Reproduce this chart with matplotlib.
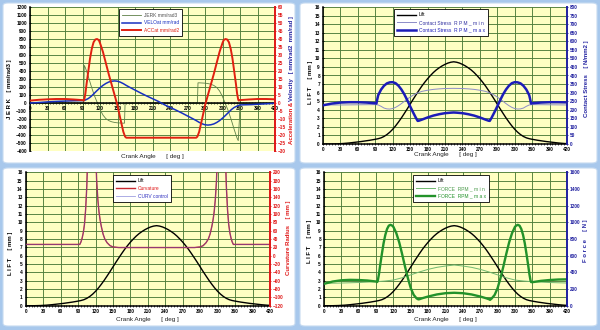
import matplotlib
matplotlib.use('Agg')
import matplotlib.pyplot as plt
from matplotlib.patches import FancyBboxPatch
from matplotlib.ticker import MultipleLocator

plt.rcParams['font.family'] = ['Liberation Sans', 'DejaVu Sans']

# ---------------- data ----------------
x_ticks = list(range(0, 421, 30))

lift_deg = list(range(0, 421, 5))
lift_mm = [0.00, 0.00, 0.00, 0.00, 0.01, 0.02, 0.04, 0.06, 0.09, 0.12, 0.16, 0.20, 0.24, 0.28, 0.33, 0.38,
           0.43, 0.49, 0.55, 0.62, 0.72, 0.88, 1.10, 1.38, 1.72, 2.12, 2.57, 3.05, 3.57, 4.10, 4.65, 5.20,
           5.73, 6.25, 6.75, 7.20, 7.62, 8.00, 8.35, 8.65, 8.90, 9.12, 9.30, 9.45, 9.55, 9.60, 9.55, 9.45,
           9.30, 9.12, 8.90, 8.65, 8.35, 8.00, 7.62, 7.20, 6.75, 6.25, 5.73, 5.20, 4.65, 4.10, 3.57, 3.05,
           2.57, 2.12, 1.72, 1.38, 1.10, 0.88, 0.72, 0.62, 0.55, 0.49, 0.43, 0.38, 0.33, 0.28, 0.24, 0.20,
           0.16, 0.12, 0.09, 0.06, 0.04]

jerk_deg = [0, 90, 92, 93, 95, 100, 105, 110, 115, 120, 125, 130, 135, 140, 145, 150, 155, 160, 162, 163,
            287, 288, 290, 295, 300, 305, 310, 315, 320, 325, 330, 335, 340, 345, 350, 355, 357, 359, 360, 420]
jerk_val = [0, 0, 0, 470, 440, 330, 210, 100, 10, -80, -150, -195, -220, -235, -243, -248, -250, -252, -252, 0,
            0, 252, 252, 250, 248, 243, 235, 220, 195, 150, 80, -10, -100, -210, -330, -440, -470, -200, 0, 0]

velo_deg = [0, 15, 30, 45, 60, 75, 90, 93, 95, 100, 105, 110, 115, 120, 125, 130, 135, 140, 145, 150, 155,
            160, 165, 170, 180, 190, 200, 210, 220, 225, 230, 240, 250, 260, 270, 280, 285, 290, 295, 300,
            305, 310, 315, 320, 325, 330, 335, 340, 345, 350, 355, 357, 360, 380, 400, 420]
velo_val = [0.0, 0.3, 0.7, 1.0, 1.2, 1.4, 1.5, 1.6, 1.9, 2.8, 4.2, 6.0, 7.8, 9.5, 11.0, 12.2, 13.1, 13.6, 13.8,
            13.6, 13.0, 12.1, 11.0, 10.0, 8.1, 6.2, 4.4, 2.7, 1.0, 0.0, -1.0, -2.7, -4.4, -6.2, -8.1, -10.0,
            -11.0, -12.1, -13.0, -13.6, -13.8, -13.6, -13.1, -12.2, -11.0, -9.5, -7.8, -6.0, -4.2, -2.8, -1.9,
            -1.6, -1.2, -1.0, -0.6, -0.2]

acc_deg = [0, 15, 30, 45, 60, 75, 90, 92, 93, 95, 97, 100, 103, 106, 109, 112, 115, 118, 120, 125, 130, 135,
           140, 145, 150, 155, 160, 163, 165, 285, 287, 290, 295, 300, 305, 310, 315, 320, 325, 330, 332, 335,
           338, 341, 344, 347, 350, 353, 355, 357, 358, 360, 375, 390, 405, 420]
acc_val = [1.5, 2.0, 2.3, 2.5, 2.5, 2.2, 1.8, 1.5, 2.0, 6.0, 12.0, 20.0, 28.0, 34.0, 38.0, 39.7, 40.0, 39.3,
           37.5, 32.0, 25.0, 18.0, 11.5, 5.0, -1.5, -10.0, -18.0, -21.0, -21.7, -21.7, -21.0, -18.0, -10.0,
           -1.5, 5.0, 11.5, 18.0, 25.0, 32.0, 37.5, 39.3, 40.0, 39.7, 38.0, 34.0, 28.0, 20.0, 12.0, 6.0, 2.0,
           1.5, 1.8, 2.2, 2.5, 2.5, 2.3]

cs_min_deg = [0, 30, 60, 90, 95, 100, 105, 110, 115, 120, 125, 130, 135, 140, 145, 150, 155, 160, 165, 170,
              180, 190, 200, 210, 225, 240, 250, 260, 270, 280, 285, 290, 295, 300, 305, 310, 315, 320, 325,
              330, 335, 340, 345, 350, 355, 360, 390, 420]
cs_min_val = [228, 228, 229, 230, 228, 220, 210, 205, 204, 207, 214, 224, 236, 249, 262, 274, 285, 294, 301,
              307, 314, 319, 322, 324, 325, 324, 322, 319, 314, 307, 301, 294, 285, 274, 262, 249, 236, 224,
              214, 207, 204, 205, 210, 220, 228, 230, 229, 228]

cs_max_deg = [0, 15, 30, 45, 60, 75, 90, 92, 93, 95, 100, 105, 110, 115, 120, 125, 130, 135, 140, 145, 150,
              155, 160, 163, 165, 170, 180, 190, 200, 210, 220, 225, 230, 240, 250, 260, 270, 280, 285, 287,
              290, 295, 300, 305, 310, 315, 320, 325, 330, 335, 340, 345, 350, 355, 357, 358, 360, 375, 390,
              405, 420]
cs_max_val = [226, 236, 242, 244, 244, 242, 238, 236, 255, 285, 318, 340, 354, 360, 361, 355, 340, 318, 290,
              256, 220, 185, 152, 135, 136, 142, 155, 166, 174, 180, 183, 184, 183, 180, 174, 166, 155, 142,
              136, 135, 152, 185, 220, 256, 290, 318, 340, 355, 361, 360, 354, 340, 318, 285, 255, 236, 238,
              242, 244, 244, 243]

curv_deg = [0, 30, 60, 90, 93, 95, 97, 99, 101, 103, 105, 106, 107, 110, 115, 120, 121, 122, 124, 126, 128,
            130, 133, 136, 140, 145, 150, 160, 180, 225, 270, 290, 300, 305, 310, 314, 317, 320, 322, 324,
            326, 328, 329, 330, 335, 340, 343, 344, 345, 347, 349, 351, 353, 355, 357, 360, 420]
curv_val = [27, 27, 27, 27, 27, 33, 42, 55, 75, 110, 165, 210, 260, 400, 500, 300, 220, 180, 135, 105, 85,
            70, 52, 40, 31, 24, 21, 19.5, 19.5, 19.5, 19.5, 19.5, 21, 24, 31, 40, 52, 70, 85, 105, 135, 180,
            220, 300, 500, 400, 260, 210, 165, 110, 75, 55, 42, 33, 27, 27, 27]
curv_ctrl_val = [27, 27, 27, 27, 27, 33, 42, 55, 75, 110, 165, 210, 260, 400, 500, 300, 220, 180, 135, 105,
                 85, 70, 52, 40, 31, 24, 21, 19.5, 19.5, 19.5, 19.5, 19.5, 21, 24, 31, 40, 52, 70, 85, 105,
                 135, 180, 220, 300, 500, 400, 260, 210, 165, 110, 75, 55, 42, 33, 27, 27, 27]

f_min_deg = [0, 30, 60, 90, 105, 120, 135, 150, 165, 180, 195, 210, 225, 240, 255, 270, 285, 300, 315, 330,
             345, 360, 390, 420]
f_min_val = [268, 272, 278, 288, 296, 308, 335, 370, 405, 436, 460, 476, 488, 476, 460, 436, 405, 370, 335,
             308, 296, 288, 278, 272]

f_max_deg = [0, 15, 30, 45, 60, 75, 90, 92, 93, 95, 97, 100, 103, 106, 109, 112, 115, 118, 120, 125, 130,
             135, 140, 145, 150, 155, 160, 163, 165, 170, 180, 195, 210, 225, 240, 255, 270, 280, 285, 287,
             290, 295, 300, 305, 310, 315, 320, 325, 330, 332, 335, 338, 341, 344, 347, 350, 353, 355, 357,
             358, 360, 375, 390, 405, 420]
f_max_val = [262, 290, 305, 310, 308, 302, 290, 284, 300, 380, 480, 620, 750, 850, 920, 960, 970, 960, 945,
             870, 760, 620, 470, 330, 210, 130, 88, 76, 78, 90, 110, 135, 150, 155, 150, 135, 110, 90, 78, 70,
             88, 130, 210, 330, 470, 620, 760, 870, 945, 960, 970, 960, 920, 850, 750, 620, 480, 380, 300, 284,
             282, 298, 308, 314, 316]

# ---------------- layout ----------------
W, H = 600, 330
fig = plt.figure(figsize=(6, 3.3), dpi=100, facecolor='#A8C8EC')

for (x0, y0, x1, y1) in [(3, 3, 295, 163), (300, 3, 597, 163), (3, 168, 295, 326), (300, 168, 597, 326)]:
    p = FancyBboxPatch((x0 / W, 1 - y1 / H), (x1 - x0) / W, (y1 - y0) / H,
                       boxstyle='round,pad=0,rounding_size=0.008', transform=fig.transFigure,
                       facecolor='white', edgecolor='#C6DAF0', lw=0.8, zorder=-5)
    fig.patches.append(p)


def px_axes(x0, y0, x1, y1):
    return fig.add_axes([x0 / W, 1 - y1 / H, (x1 - x0) / W, (y1 - y0) / H])


YELLOW = '#FFFFC2'
GRID = '#4F7D3B'
TICK_FS = 3.4
LAB_FS = 4.3
DBLUE = '#2020A0'


def style(ax, tw, yl, ystep, yr, rstep, rcolor, zero=False):
    ax.set_xlim(0, 420)
    ax.set_ylim(*yl)
    ax.set_facecolor(YELLOW)
    ax.set_xticks(x_ticks)
    ax.xaxis.set_minor_locator(MultipleLocator(5))
    ax.yaxis.set_major_locator(MultipleLocator(ystep))
    ax.grid(True, which='major', color=GRID, lw=0.65)
    ax.set_axisbelow(True)
    for s in ['top', 'right']:
        ax.spines[s].set_visible(False)
    ax.spines['left'].set_linewidth(1.1)
    ax.spines['bottom'].set_linewidth(1.1)
    if zero:
        ax.spines['bottom'].set_position(('data', 0))
    ax.tick_params(axis='both', which='major', labelsize=TICK_FS, length=2, width=0.6, pad=1.2,
                   direction='inout')
    ax.tick_params(axis='x', which='minor', length=1.5, width=0.5, direction='inout')
    for t in ax.get_yticklabels() + ax.get_xticklabels():
        t.set_fontweight('bold')
    tw.set_ylim(*yr)
    tw.yaxis.set_major_locator(MultipleLocator(rstep))
    tw.set_facecolor('none')
    for s in ['top', 'left', 'bottom']:
        tw.spines[s].set_visible(False)
    tw.spines['right'].set_color(rcolor)
    tw.spines['right'].set_linewidth(1.4)
    tw.tick_params(axis='y', labelsize=TICK_FS, length=2, width=0.6, pad=1.2, colors=rcolor,
                   direction='inout')
    for t in tw.get_yticklabels():
        t.set_fontweight('bold')


def legend(tw, handles, labels, colors, bx, by):
    leg = tw.legend(handles, labels, loc='upper left', bbox_to_anchor=(bx, by), fontsize=3.5,
                    frameon=True, fancybox=False, edgecolor='black', facecolor='white', framealpha=1,
                    borderpad=0.7, handlelength=3.8, labelspacing=0.55, borderaxespad=0, handletextpad=0.6)
    leg.get_frame().set_linewidth(0.6)
    for t, c in zip(leg.get_texts(), colors):
        t.set_color(c)
    leg.set_zorder(10)


def xlabel(ax, y):
    ax.text(0.5, y, 'Crank Angle      [ deg ]', transform=ax.transAxes, ha='center', va='center',
            fontsize=LAB_FS + 0.3, color='#202020')


def ylabel(ax, x, y, text, color='black'):
    ax.text(x, y, text, transform=ax.transAxes, rotation=90, ha='center', va='center',
            fontsize=LAB_FS, fontweight='bold', color=color)


# ---------- panel 1 ----------
ax1 = px_axes(30, 7, 275, 151)
tw1 = ax1.twinx()
style(ax1, tw1, (-600, 1200), 100, (-30, 60), 5, '#E01818', zero=True)
hj, = ax1.plot(jerk_deg, jerk_val, color='#5E8048', lw=0.6)
hv, = tw1.plot(velo_deg, velo_val, color='#1830C0', lw=1.1)
ha, = tw1.plot(acc_deg, acc_val, color='#E02010', lw=1.4)
legend(tw1, [hj, hv, ha], ['JERK mm/rad3', 'VELOat mm/rad', 'ACCat mm/rad2'],
       ['#505050', '#1830C0', '#E02010'], 0.363, 0.985)
xlabel(ax1, -0.035)
ylabel(ax1, -0.082, 0.43, 'J E R K    [ mm/rad3 ]')
tw1.text(1.066, 0.35, 'Acceleration & ', transform=tw1.transAxes, rotation=90, rotation_mode='anchor',
         ha='right', va='center', fontsize=LAB_FS, fontweight='bold', color='#E01818')
tw1.text(1.066, 0.35, 'Velocity   [ mm/rad2  mm/rad ]', transform=tw1.transAxes, rotation=90,
         rotation_mode='anchor', ha='left', va='center', fontsize=LAB_FS, fontweight='bold', color=DBLUE)

# ---------- panel 2 ----------
ax2 = px_axes(323, 7, 567, 144)
tw2 = ax2.twinx()
style(ax2, tw2, (0, 16), 1, (0, 800), 50, DBLUE)
hl2, = ax2.plot(lift_deg, lift_mm, color='black', lw=1.0)
hc1, = tw2.plot(cs_min_deg, cs_min_val, color='#8C8CC8', lw=0.7)
hc2, = tw2.plot(cs_max_deg, cs_max_val, color='#1C1CB8', lw=1.8)
legend(tw2, [hl2, hc1, hc2], ['Lift', 'Contact Stress  R P M _ m i n', 'Contact Stress  R P M _ m a x'],
       ['black', '#3030A0', '#1C1CB8'], 0.291, 0.985)
xlabel(ax2, -0.08)
ylabel(ax2, -0.053, 0.45, 'L I F T     [ mm ]')
ylabel(tw2, 1.078, 0.48, 'Contact Stress    [ N/mm2 ]', DBLUE)

# ---------- panel 3 ----------
ax3 = px_axes(25.7, 172.3, 270, 305.7)
tw3 = ax3.twinx()
style(ax3, tw3, (0, 16), 1, (-120, 200), 20, '#E01818')
hl3, = ax3.plot(lift_deg, lift_mm, color='black', lw=1.0)
hcu, = tw3.plot(curv_deg, curv_val, color='#C82830', lw=1.0)
hcc, = tw3.plot(curv_deg, curv_ctrl_val, color='#5050C8', lw=0.6, alpha=0.55)
legend(tw3, [hl3, hcu, hcc], ['Lift', 'Curvature', 'CURV control'],
       ['black', '#E01818', '#3030C0'], 0.357, 0.98)
xlabel(ax3, -0.10)
ylabel(ax3, -0.064, 0.39, 'L I F T     [ mm ]')
ylabel(tw3, 1.075, 0.51, 'Curvature Radius    [ mm ]', '#E01818')

# ---------- panel 4 ----------
ax4 = px_axes(324, 172.3, 567, 305.7)
tw4 = ax4.twinx()
style(ax4, tw4, (0, 16), 1, (0, 1600), 200, DBLUE)
hl4, = ax4.plot(lift_deg, lift_mm, color='black', lw=1.0)
hf1, = tw4.plot(f_min_deg, f_min_val, color='#70B870', lw=0.7)
hf2, = tw4.plot(f_max_deg, f_max_val, color='#22922A', lw=1.7)
legend(tw4, [hl4, hf1, hf2], ['Lift', 'FORCE  RPM _ m i n', 'FORCE  RPM _ m a x'],
       ['black', '#4A9A4A', '#22922A'], 0.366, 0.98)
xlabel(ax4, -0.10)
ylabel(ax4, -0.058, 0.48, 'L I F T     [ mm ]')
ylabel(tw4, 1.078, 0.49, 'F o r c e     [ N ]', DBLUE)

fig.savefig('out.png', dpi=100, facecolor=fig.get_facecolor())
